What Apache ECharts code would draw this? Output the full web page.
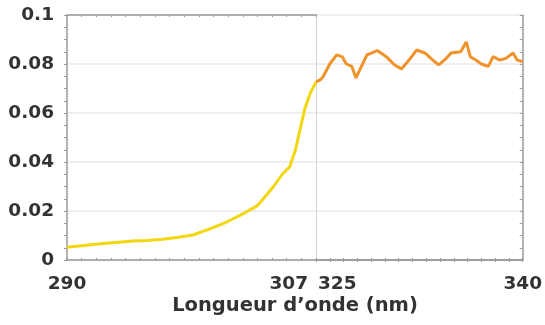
<!DOCTYPE html>
<html>
<head>
<meta charset="utf-8">
<script src="https://cdn.jsdelivr.net/npm/echarts@6/dist/echarts.min.js"></script>
<style>html,body{margin:0;padding:0;background:#fff}#c{width:545px;height:325px}</style>
</head>
<body>
<div id="c"></div>
<script>
// Broken x axis: two segments
const leftRange = [290, 307];
const rightRange = [325, 340];
const xTickLabels = ['290', '307', '325', '340'];
const xTitle = 'Longueur d\u2019onde (nm)';
const yRange = [0, 0.1];
const yStep = 0.02;

const yellowNm = [290.0, 291.0, 292.3, 293.5, 294.5, 295.5, 296.5, 297.5, 298.6, 299.8, 300.9, 302.0, 303.0, 303.4, 304.1, 304.7, 305.2, 305.6, 305.9, 306.25, 306.6, 307.0];
const yellowVal = [0.0052, 0.0058, 0.0066, 0.0072, 0.0078, 0.0080, 0.0085, 0.0092, 0.0102, 0.0128, 0.0155, 0.0188, 0.0222, 0.0250, 0.0300, 0.0350, 0.0380, 0.0450, 0.0530, 0.0620, 0.0680, 0.0727];

const orangeNm = [325.0, 325.3, 325.5, 326.0, 326.5, 326.9, 327.2, 327.6, 327.9, 328.3, 328.7, 329.45, 330.1, 330.7, 331.2, 331.75, 332.3, 332.9, 333.4, 333.9, 334.4, 334.8, 335.5, 335.9, 336.2, 336.6, 337.0, 337.5, 337.85, 338.35, 338.8, 339.3, 339.6, 340.0];
const orangeVal = [0.0727, 0.0735, 0.0747, 0.0800, 0.0837, 0.0830, 0.0800, 0.0790, 0.0743, 0.0790, 0.0837, 0.0855, 0.0830, 0.0796, 0.0780, 0.0816, 0.0857, 0.0845, 0.0820, 0.0796, 0.0820, 0.0845, 0.0850, 0.0890, 0.0830, 0.0816, 0.0800, 0.0790, 0.0830, 0.0816, 0.0824, 0.0845, 0.0816, 0.0810];

const FONT = 'DejaVu Sans';
const TXT = '#333';
const AX = '#9a9a9a';

function range(a, b) { const r = []; for (let v = a; v <= b; v++) r.push(v); return r; }

const chart = echarts.init(document.getElementById('c'), null, {renderer: 'canvas'});
const labelBase = {fontFamily: FONT, fontWeight: 'bold', fontSize: 18.5, color: TXT};

chart.setOption({
  animation: false,
  grid: [
    {left: 67, right: 229, top: 15, bottom: 65},
    {left: 316, right: 20, top: 15, bottom: 65}
  ],
  xAxis: [
    { gridIndex: 0, type: 'value', min: leftRange[0], max: leftRange[1], position: 'bottom',
      axisLine: {show: true, lineStyle: {color: AX, width: 1.5}},
      axisTick: {show: true, customValues: range(leftRange[0], leftRange[1]), length: 2, inside: true, lineStyle: {color: AX}},
      axisLabel: Object.assign({}, labelBase, {
        customValues: [leftRange[0], leftRange[1]], margin: 15,
        alignMinLabel: 'center', alignMaxLabel: 'right',
        formatter: v => v === leftRange[0] ? '{n|' + xTickLabels[0] + '}' : '{r|' + xTickLabels[1] + '}',
        rich: {n: labelBase, r: Object.assign({}, labelBase, {padding: [0, 8, 0, 0]})}
      }),
      splitLine: {show: false} },
    { gridIndex: 1, type: 'value', min: rightRange[0], max: rightRange[1], position: 'bottom',
      axisLine: {show: true, lineStyle: {color: AX, width: 1.5}},
      axisTick: {show: true, customValues: range(rightRange[0], rightRange[1]), length: 2, inside: true, lineStyle: {color: AX}},
      axisLabel: Object.assign({}, labelBase, {
        customValues: [rightRange[0], rightRange[1]], margin: 15,
        alignMinLabel: 'left', alignMaxLabel: 'center',
        formatter: v => v === rightRange[0] ? '{l|' + xTickLabels[2] + '}' : '{n|' + xTickLabels[3] + '}',
        rich: {n: labelBase, l: Object.assign({}, labelBase, {padding: [0, 0, 0, 2]})}
      }),
      splitLine: {show: false} },
    { gridIndex: 0, type: 'value', min: leftRange[0], max: leftRange[1], position: 'top',
      axisLine: {show: true, lineStyle: {color: AX, width: 1.5}},
      axisTick: {show: true, customValues: range(leftRange[0], leftRange[1]), length: 2, inside: true, lineStyle: {color: AX}},
      axisLabel: {show: false}, splitLine: {show: false} },
    { gridIndex: 1, type: 'value', min: rightRange[0], max: rightRange[1], position: 'top',
      axisLine: {show: true, lineStyle: {color: AX, width: 1.5}},
      axisTick: {show: true, customValues: range(rightRange[0], rightRange[1]), length: 2, inside: true, lineStyle: {color: AX}},
      axisLabel: {show: false}, splitLine: {show: false} }
  ],
  yAxis: [
    { gridIndex: 0, type: 'value', min: yRange[0], max: yRange[1], interval: yStep, position: 'left',
      axisLine: {show: true, lineStyle: {color: AX, width: 1.5}},
      axisTick: {show: true, length: 3, lineStyle: {color: AX}},
      minorTick: {show: true, splitNumber: 4, length: 3, lineStyle: {color: AX}},
      axisLabel: Object.assign({}, labelBase, {margin: 13}),
      splitLine: {show: true, lineStyle: {color: '#efefef', width: 2}} },
    { gridIndex: 1, type: 'value', min: yRange[0], max: yRange[1], interval: yStep, position: 'left',
      axisLine: {show: true, lineStyle: {color: '#d4d4d4', width: 1}},
      axisTick: {show: false}, axisLabel: {show: false},
      splitLine: {show: true, lineStyle: {color: '#efefef', width: 2}} },
    { gridIndex: 1, type: 'value', min: yRange[0], max: yRange[1], interval: yStep, position: 'right',
      axisLine: {show: true, lineStyle: {color: AX, width: 1.5}},
      axisTick: {show: true, length: 3, inside: true, lineStyle: {color: AX}},
      minorTick: {show: true, splitNumber: 4, length: 3, lineStyle: {color: AX}},
      axisLabel: {show: false}, splitLine: {show: false} }
  ],
  graphic: [{
    type: 'text', x: 295, y: 296,
    style: {text: xTitle, align: 'center', verticalAlign: 'top', fontFamily: FONT, fontWeight: 'bold', fontSize: 19.5, fill: TXT}
  }],
  series: [
    { type: 'line', xAxisIndex: 0, yAxisIndex: 0, showSymbol: false, symbol: 'none',
      data: yellowNm.map((x, i) => [x, yellowVal[i]]),
      lineStyle: {color: '#F2D60E', width: 3}, z: 3 },
    { type: 'line', xAxisIndex: 1, yAxisIndex: 1, showSymbol: false, symbol: 'none',
      data: orangeNm.map((x, i) => [x, orangeVal[i]]),
      lineStyle: {color: '#F0932A', width: 3}, z: 3 }
  ]
});
</script>
</body>
</html>
